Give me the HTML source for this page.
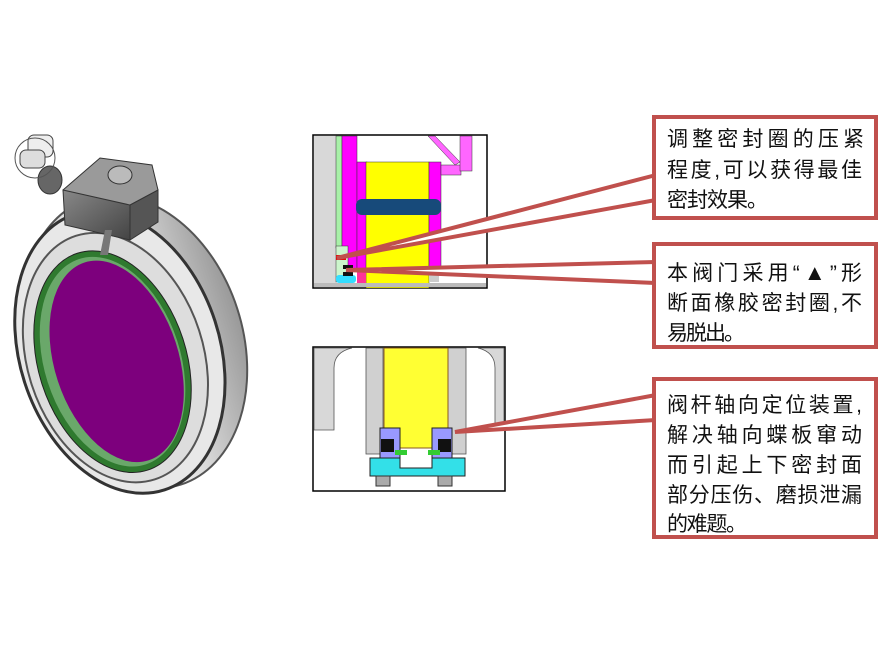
<!DOCTYPE html>
<html><head><meta charset="utf-8"><style>
html,body{margin:0;padding:0;background:#fff;width:880px;height:650px;overflow:hidden}
svg{position:absolute;left:0;top:0}
.t{font-family:"Liberation Sans","Noto Sans CJK SC",sans-serif;font-size:21px;fill:#111}
</style></head><body>
<svg width="880" height="650" viewBox="0 0 880 650">
<defs>
<linearGradient id="ring" x1="0" y1="0" x2="1" y2="0"><stop offset="0" stop-color="#bbb"/><stop offset="0.5" stop-color="#f2f2f2"/><stop offset="1" stop-color="#999"/></linearGradient>
<linearGradient id="gb" x1="0" y1="0" x2="1" y2="1"><stop offset="0" stop-color="#888"/><stop offset="1" stop-color="#444"/></linearGradient>
</defs>
<g transform="rotate(-18 125 345)">
<ellipse cx="135" cy="345" rx="108" ry="150" fill="url(#ring)" stroke="#555" stroke-width="2"/>
<ellipse cx="118" cy="350" rx="100" ry="145" fill="#e8e8e8" stroke="#333" stroke-width="3"/>
<ellipse cx="112" cy="354" rx="88" ry="128" fill="#ddd" stroke="#555" stroke-width="2"/>
<ellipse cx="108" cy="357" rx="74" ry="114" fill="#2f7a2f" stroke="#222" stroke-width="1"/>
<ellipse cx="108" cy="357" rx="68" ry="108" fill="#6aa86a"/>
<ellipse cx="112" cy="358" rx="62" ry="104" fill="#7d007d"/>
</g>
<polygon points="63,190 100,158 152,165 158,190 130,222 68,210" fill="#9a9a9a" stroke="#333"/>
<polygon points="63,190 130,205 130,240 65,225" fill="url(#gb)" stroke="#333"/>
<polygon points="130,205 158,190 158,222 130,240" fill="#555" stroke="#333"/>
<ellipse cx="120" cy="175" rx="12" ry="9" fill="#bbb" stroke="#333"/>
<polygon points="105,230 112,230 108,255 100,255" fill="#777"/>
<ellipse cx="50" cy="180" rx="12" ry="14" fill="#666" stroke="#333"/>
<rect x="28" y="135" width="25" height="22" rx="6" fill="#eee" stroke="#444"/>
<circle cx="35" cy="158" r="20" fill="none" stroke="#555"/>
<rect x="20" y="150" width="25" height="18" rx="6" fill="#ddd" stroke="#444"/>
<rect x="313" y="135" width="174" height="153" fill="#fff" stroke="#000" stroke-width="1.5"/>
<rect x="314" y="136" width="22" height="147" fill="#d8d8d8"/>
<rect x="336" y="136" width="6" height="112" fill="#a8f0a8" stroke="#333" stroke-width=".5"/>
<rect x="342" y="136" width="15" height="135" fill="#ff00ff" stroke="#333" stroke-width=".5"/>
<rect x="357" y="162" width="10" height="110" fill="#ff00ff" stroke="#333" stroke-width=".5"/>
<rect x="366" y="162" width="63" height="126" fill="#ffff00" stroke="#333" stroke-width=".5"/>
<rect x="429" y="162" width="12" height="110" fill="#ff00ff" stroke="#333" stroke-width=".5"/>
<rect x="441" y="165" width="20" height="10" fill="#ff66ff" stroke="#333" stroke-width=".5"/>
<polygon points="428,136 435,136 460,162 455,165" fill="#ff66ff" stroke="#333" stroke-width=".5"/>
<rect x="460" y="136" width="12" height="35" fill="#ff66ff" stroke="#333" stroke-width=".5"/>
<rect x="356" y="199" width="85" height="16" rx="6" fill="#174a7a"/>
<rect x="336" y="246" width="12" height="36" fill="#ccf5cc" stroke="#333" stroke-width=".5"/>
<rect x="336" y="255" width="10" height="5" fill="#e01010"/>
<rect x="336" y="275" width="20" height="8" rx="3" fill="#33ddff"/>
<path d="M343,265 h10 v4 h-3 v3 h3 v4 h-10 v-4 h3 v-3 h-3z" fill="#111"/>
<rect x="357" y="272" width="9" height="14" fill="#ff3399"/>
<rect x="429" y="272" width="10" height="10" fill="#ccc"/>
<rect x="314" y="283" width="172" height="4" fill="#bbb"/>
<rect x="313" y="347" width="192" height="144" fill="#fff" stroke="#000" stroke-width="1.5"/>
<path d="M314,348 H352 Q334,352 334,368 V430 H314Z" fill="#d8d8d8" stroke="#555" stroke-width=".8"/>
<path d="M504,348 H478 Q495,352 495,368 V430 H504Z" fill="#d8d8d8" stroke="#555" stroke-width=".8"/>
<rect x="366" y="348" width="17" height="106" fill="#d0d0d0" stroke="#555" stroke-width=".8"/>
<rect x="448" y="348" width="18" height="106" fill="#d0d0d0" stroke="#555" stroke-width=".8"/>
<rect x="384" y="348" width="64" height="100" fill="#ffff33" stroke="#8a5a20"/>
<rect x="380" y="428" width="20" height="30" fill="#9999ff" stroke="#222"/>
<rect x="432" y="428" width="20" height="30" fill="#9999ff" stroke="#222"/>
<rect x="381" y="439" width="13" height="13" fill="#111"/>
<rect x="438" y="439" width="13" height="13" fill="#111"/>
<path d="M370,458 h30 v10 h32 v-10 h33 v18 h-95z" fill="#33e0e8" stroke="#222"/>
<rect x="395" y="450" width="12" height="5" fill="#33cc33"/>
<rect x="428" y="450" width="12" height="5" fill="#33cc33"/>
<rect x="376" y="476" width="14" height="10" fill="#aaa" stroke="#333"/>
<rect x="438" y="476" width="14" height="10" fill="#aaa" stroke="#333"/>
<g fill="#fff" stroke="#c0504d" stroke-width="4" stroke-linejoin="miter">
<polygon points="656,175 337,258 656,200"/>
<polygon points="656,262 346,270 656,283"/>
<polygon points="656,395 455,432 656,420"/>
<rect x="654" y="117" width="222" height="101"/>
<rect x="654" y="244" width="222" height="103"/>
<rect x="654" y="379" width="222" height="158"/>
</g>
<g class="t">
<text x="667" y="146" textLength="197" lengthAdjust="spacing">调整密封圈的压紧</text>
<text x="667" y="177" textLength="195" lengthAdjust="spacing">程度,可以获得最佳</text>
<text x="667" y="207" textLength="101" lengthAdjust="spacing">密封效果。</text>
<text x="667" y="280" textLength="195" lengthAdjust="spacing">本阀门采用“<tspan font-size="22">▲</tspan>”形</text>
<text x="667" y="310" textLength="195" lengthAdjust="spacing">断面橡胶密封圈,不</text>
<text x="667" y="340" textLength="78" lengthAdjust="spacing">易脱出。</text>
<text x="667" y="412" textLength="195" lengthAdjust="spacing">阀杆轴向定位装置,</text>
<text x="667" y="442" textLength="195" lengthAdjust="spacing">解决轴向蝶板窜动</text>
<text x="667" y="472" textLength="195" lengthAdjust="spacing">而引起上下密封面</text>
<text x="667" y="502" textLength="195" lengthAdjust="spacing">部分压伤、磨损泄漏</text>
<text x="667" y="531" textLength="80" lengthAdjust="spacing">的难题。</text>
</g>
</svg>
</body></html>
